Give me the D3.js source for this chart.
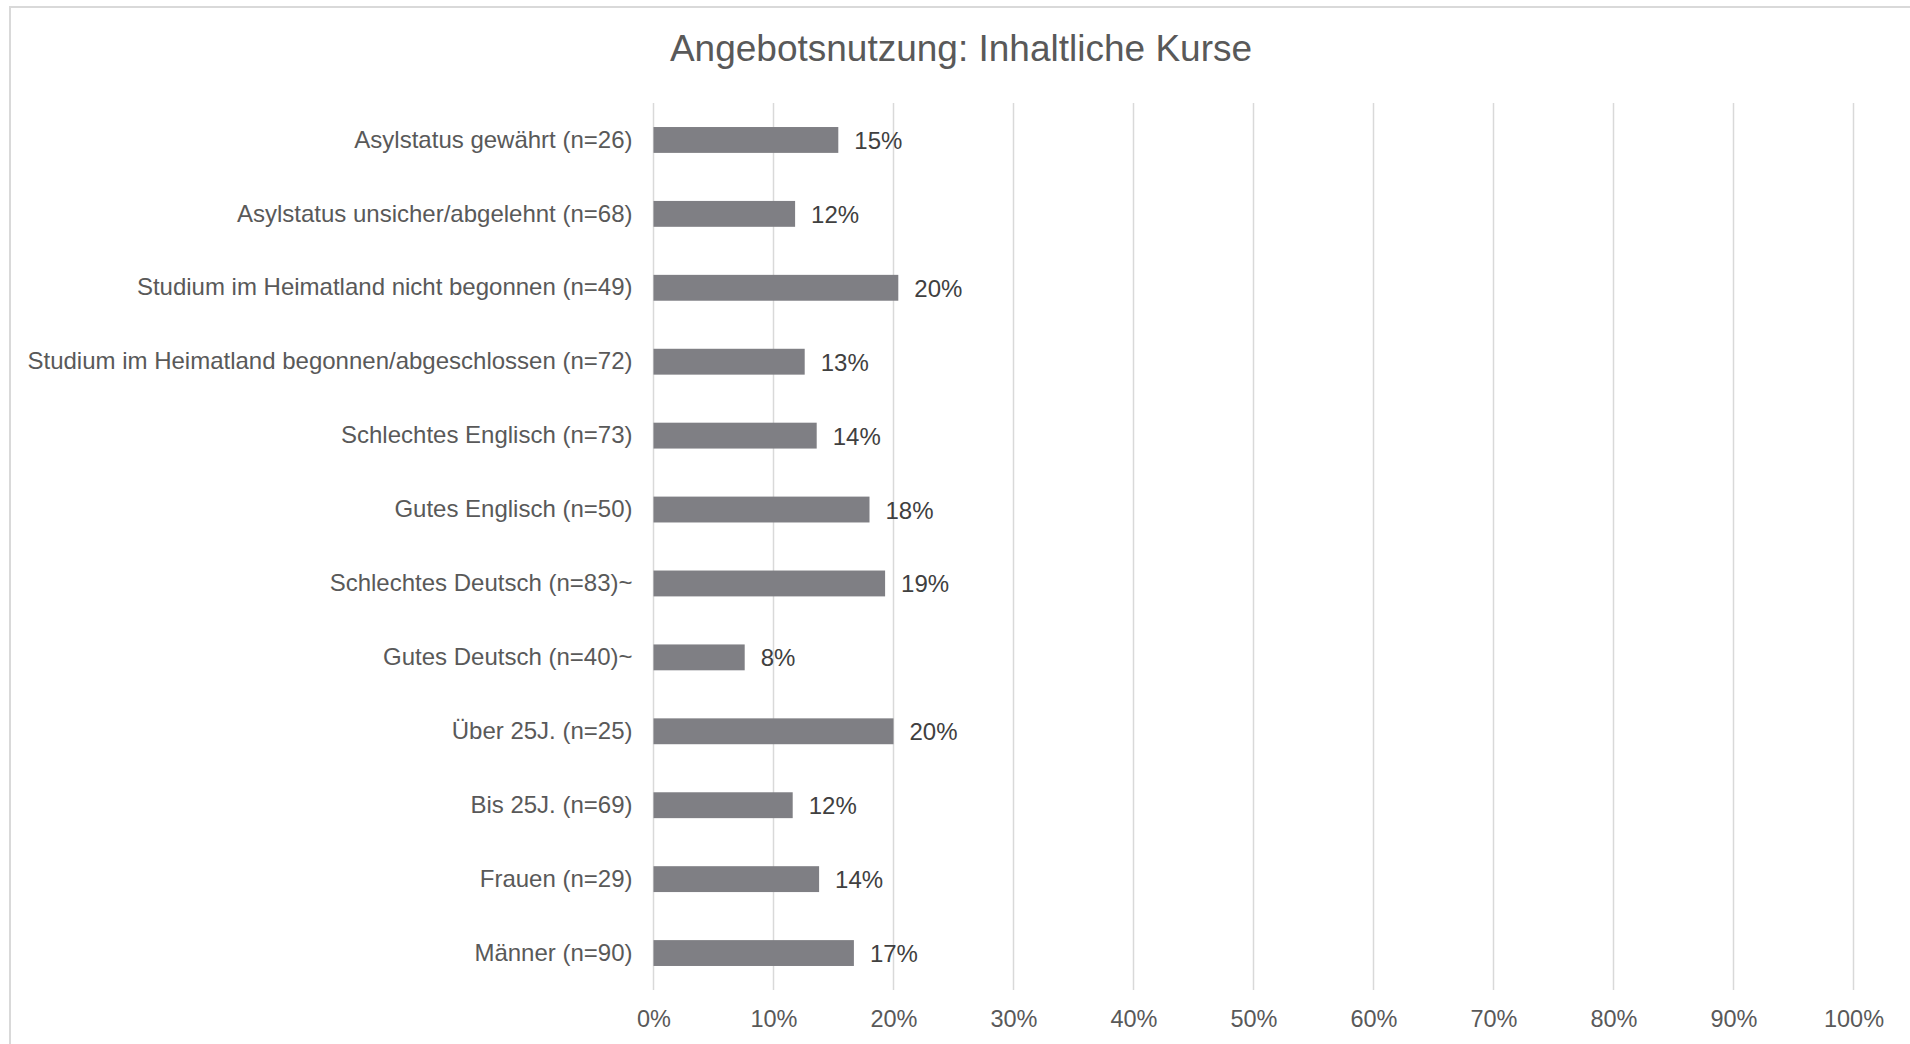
<!DOCTYPE html>
<html>
<head>
<meta charset="utf-8">
<script src="https://cdn.jsdelivr.net/npm/d3@7"></script>
<style>
    body { margin: 0; background: #fff; }
    svg { display: block; font-family: "Liberation Sans", Arial, sans-serif; }
</style>
</head>
<body>
<script>
// Categories, top to bottom
var categories = [
    "Asylstatus gewährt (n=26)",
    "Asylstatus unsicher/abgelehnt (n=68)",
    "Studium im Heimatland nicht begonnen (n=49)",
    "Studium im Heimatland begonnen/abgeschlossen (n=72)",
    "Schlechtes Englisch (n=73)",
    "Gutes Englisch (n=50)",
    "Schlechtes Deutsch (n=83)~",
    "Gutes Deutsch (n=40)~",
    "Über 25J. (n=25)",
    "Bis 25J. (n=69)",
    "Frauen (n=29)",
    "Männer (n=90)"
];

// Share of users
var values = [0.154, 0.118, 0.204, 0.126, 0.136, 0.180, 0.193, 0.076, 0.200, 0.116, 0.138, 0.167];

var xTicks = [0, 0.1, 0.2, 0.3, 0.4, 0.5, 0.6, 0.7, 0.8, 0.9, 1.0];

var title = "Angebotsnutzung: Inhaltliche Kurse";

var W = 1910, H = 1044;

var svg = d3.select("body").append("svg")
    .attr("width", W)
    .attr("height", H);

// chart frame
svg.append("rect")
    .attr("x", 10)
    .attr("y", 7)
    .attr("width", W)
    .attr("height", H)
    .attr("fill", "#fff")
    .attr("stroke", "#d9d9d9")
    .attr("stroke-width", 2);

// Title
svg.append("text")
    .attr("x", 961)
    .attr("y", 61)
    .attr("text-anchor", "middle")
    .style("font-size", "37px")
    .style("fill", "#595959")
    .text(title);

var x = d3.scaleLinear()
    .domain([0, 1])
    .range([653.5, 1853.5]);

var y = d3.scaleBand()
    .domain(categories)
    .range([103, 990])
    .paddingInner(0.65)
    .paddingOuter(0.325);

// Gridlines
svg.append("g")
    .selectAll("line")
    .data(xTicks)
    .enter()
    .append("line")
    .attr("x1", function (d) { return x(d); })
    .attr("x2", function (d) { return x(d); })
    .attr("y1", 103)
    .attr("y2", 990)
    .attr("stroke", "#d9d9d9")
    .attr("stroke-width", 1.5);

// X axis (labels only)
var xAxis = svg.append("g")
    .attr("transform", "translate(0,990)")
    .call(d3.axisBottom(x).tickValues(xTicks).tickSize(0).tickPadding(20)
        .tickFormat(function (d) { return Math.round(d * 100) + "%"; }));
xAxis.select(".domain").remove();
xAxis.selectAll("text")
    .style("font-size", "23.5px")
    .style("font-family", "Liberation Sans, Arial, sans-serif")
    .style("fill", "#595959");

// Y axis (category labels)
var yAxis = svg.append("g")
    .attr("transform", "translate(653.5,0)")
    .call(d3.axisLeft(y).tickSize(0).tickPadding(21));
yAxis.select(".domain").remove();
yAxis.selectAll("text")
    .style("font-size", "24px")
    .style("font-family", "Liberation Sans, Arial, sans-serif")
    .style("fill", "#595959");

// Bars
svg.append("g")
    .selectAll("rect")
    .data(values)
    .enter()
    .append("rect")
    .attr("x", x(0))
    .attr("y", function (d, i) { return y(categories[i]); })
    .attr("width", function (d) { return x(d) - x(0); })
    .attr("height", y.bandwidth())
    .attr("fill", "#7f7f84");

// Data labels
svg.append("g")
    .selectAll("text")
    .data(values)
    .enter()
    .append("text")
    .attr("x", function (d) { return x(d) + 16; })
    .attr("y", function (d, i) { return y(categories[i]) + y.bandwidth() / 2 + 9; })
    .style("font-size", "24px")
    .style("fill", "#404040")
    .text(function (d) { return Math.round(d * 100) + "%"; });
</script>
</body>
</html>
